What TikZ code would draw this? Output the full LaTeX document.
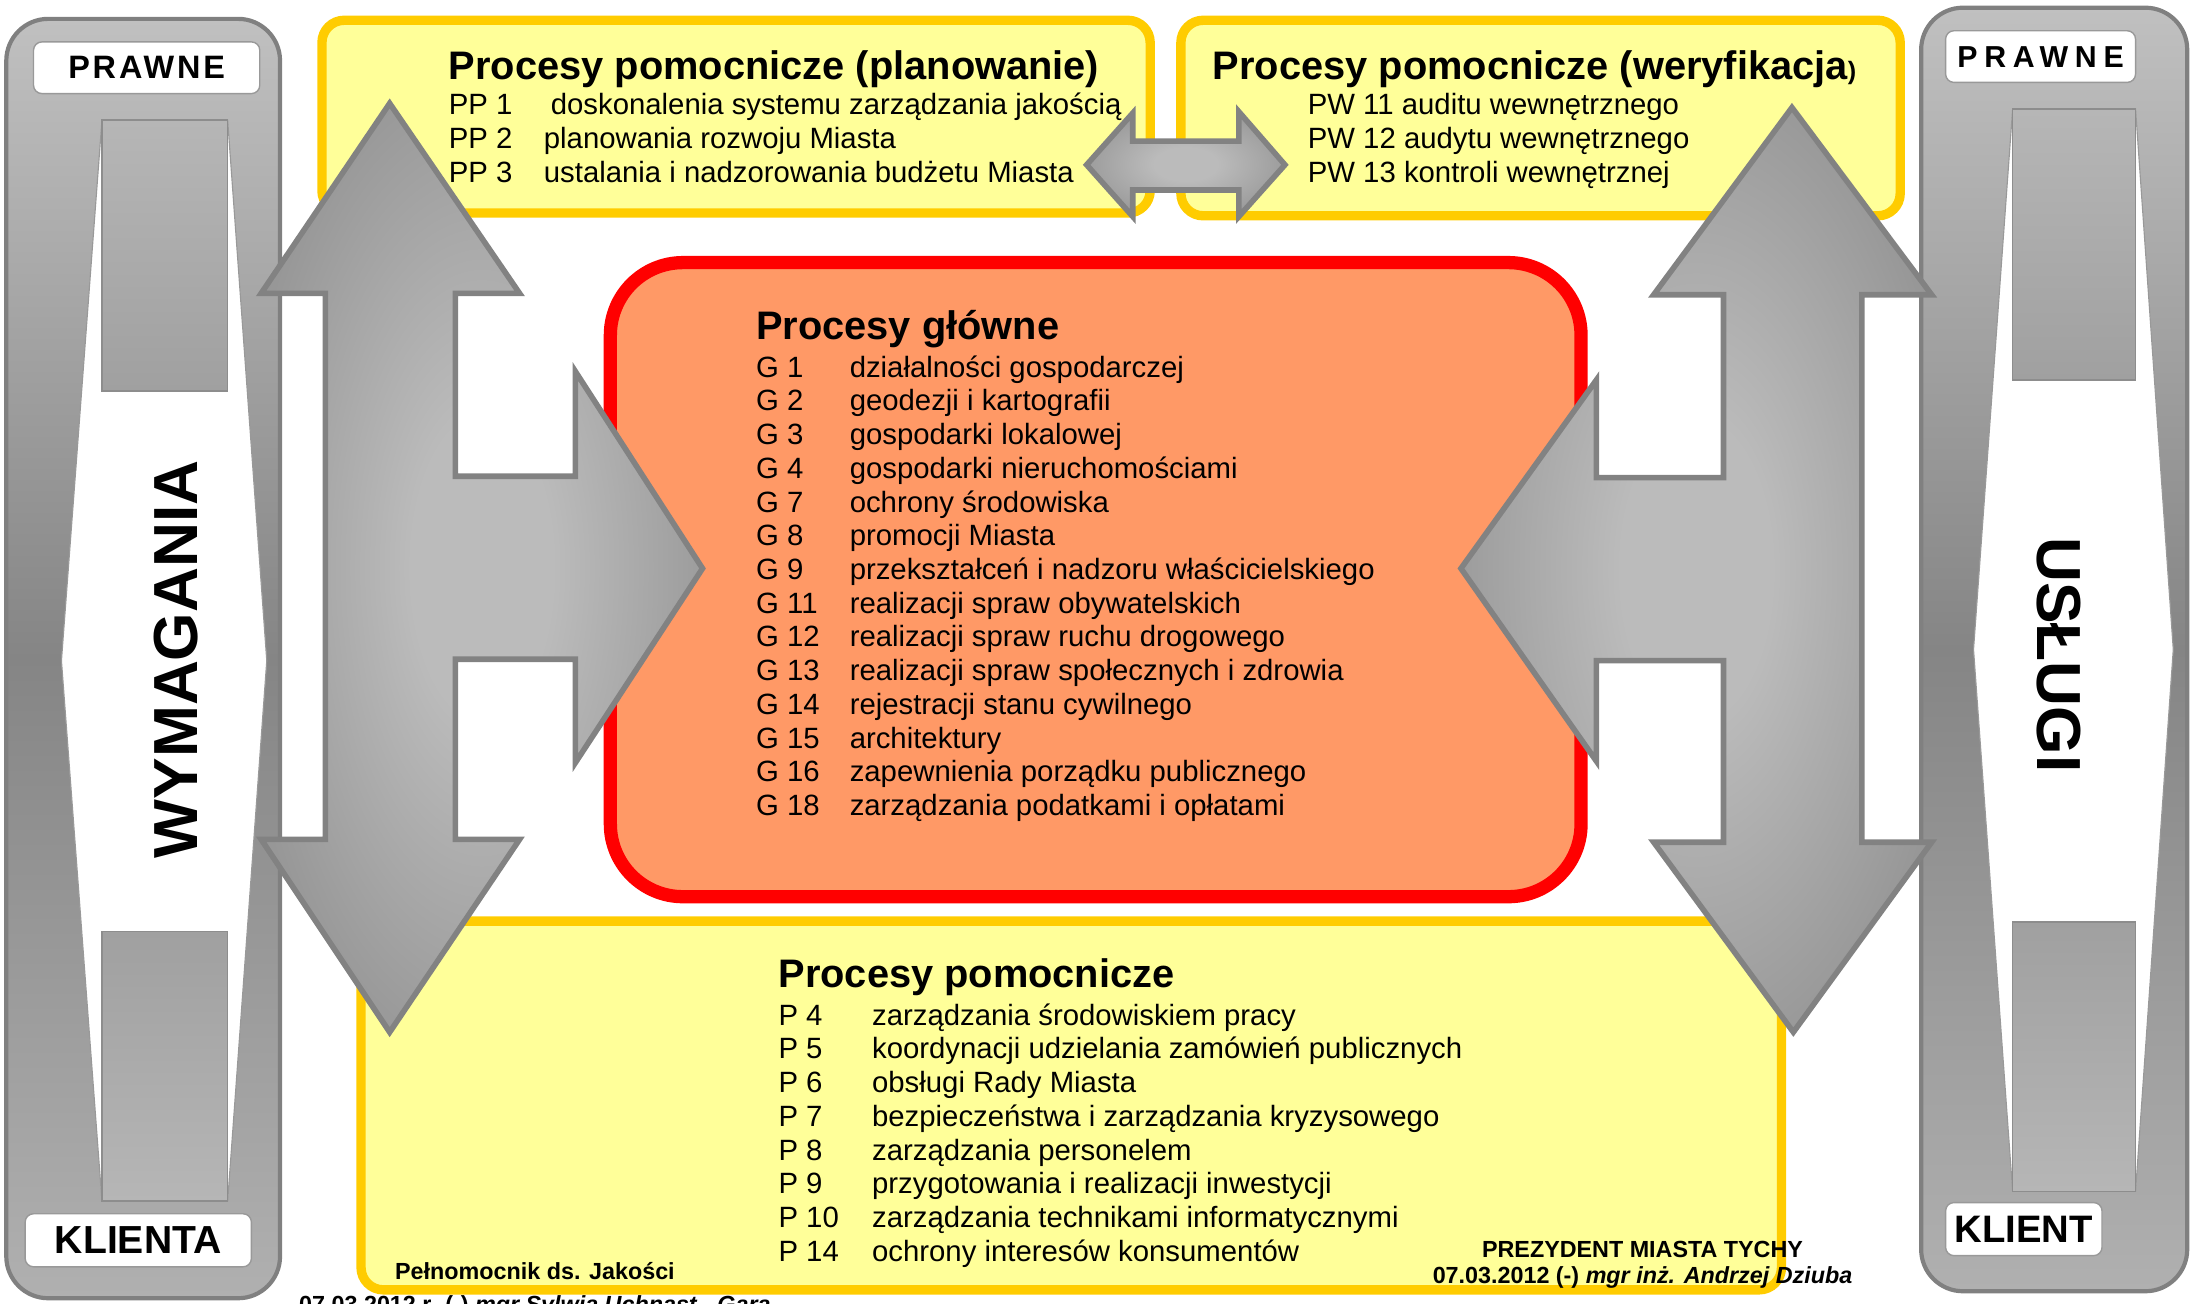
\documentclass[tikz,border=0pt]{standalone}
\usepackage{fontspec}
\usepackage{tikz}
\setmainfont{Liberation Sans}
\newfontfamily\prawneL[LetterSpace=9]{Liberation Sans}
\newfontfamily\prawneR[LetterSpace=22]{Liberation Sans}
\definecolor{boxfill}{HTML}{FFFF99}
\definecolor{boxborder}{HTML}{FFCC00}
\definecolor{mainfill}{HTML}{FF9966}
\definecolor{colborder}{HTML}{808080}
\definecolor{coltop}{HTML}{C0C0C0}
\definecolor{colmid}{HTML}{858585}
\definecolor{colbot}{HTML}{B0B0B0}
\definecolor{insetA}{HTML}{B6B6B6}
\definecolor{insetB}{HTML}{A0A0A0}
\definecolor{arrowlight}{HTML}{BBBBBB}
\definecolor{arrowmid}{HTML}{979797}
\definecolor{arrowdark}{HTML}{7A7A7A}
\definecolor{arrowborder}{HTML}{828282}
\pgfdeclareradialshading{arrowglow}{\pgfpoint{0bp}{0bp}}{color(0bp)=(arrowlight); color(8bp)=(arrowlight); color(28bp)=(arrowmid); color(50bp)=(arrowdark)}

\begin{document}
\begin{tikzpicture}[
        x=0.5pt, y=-0.5pt,
        pombox/.style={draw=boxborder, fill=boxfill, line width=3.35pt, rounded corners=8pt},
        glownybox/.style={draw=red, fill=mainfill, line width=4.75pt, rounded corners=26pt},
        kolumna/.style={draw=colborder, line width=1.5pt, rounded corners=15pt, top color=coltop, bottom color=colbot, middle color=colmid},
        szczelina/.style={draw=colborder!80, line width=0.4pt, fill=white},
        wstawka/.style={draw=colborder!90, line width=0.5pt, top color=insetA, bottom color=insetB},
        strzalka/.style={draw=arrowborder, line width=2pt, shade, shading=arrowglow},
        etykieta/.style={draw=colborder!80, fill=white, rounded corners=3pt, line width=0.5pt, inner sep=0pt},
        tytul/.style={anchor=base west, inner sep=0pt, font=\fontsize{14.25}{17}\selectfont\bfseries},
        pozycja/.style={anchor=base west, inner sep=0pt, font=\fontsize{10.5}{12.5}\selectfont},
        podpis/.style={anchor=base, inner sep=0pt, font=\fontsize{8.35}{10}\selectfont\bfseries},
        napis/.style={inner sep=0pt, font=\fontsize{22.3}{26}\selectfont\bfseries},
    ]
    \useasboundingbox (0,0) rectangle (1568,933);
    \clip (0,0) rectangle (1568,933);

    \draw[kolumna] (4.5,13.5) rectangle (200.5,929.5);
    \draw[szczelina] (73,86) -- (163,86) -- (191,473) -- (163,860) -- (73,860) -- (44,473) -- cycle;
    \draw[wstawka] (73,86) rectangle (163,280);
    \draw[wstawka, top color=insetB, bottom color=insetA] (73,667) rectangle (163,860);
    \node[etykieta, minimum width=81pt, minimum height=18.5pt, font=\prawneL\fontsize{11.6}{13}\selectfont\bfseries] (prawneL) at (105,48.5) {PRAWNE};
    \node[etykieta, minimum width=81pt, minimum height=19pt, font=\fontsize{14}{16}\selectfont\bfseries] (klienta) at (99,888) {KLIENTA};
    \node[napis, rotate=90] (wymagania) at (126,472) {WYMAGANIA};

    \draw[kolumna] (1375.5,5.5) rectangle (1566,924.5);
    \draw[szczelina] (1441,78) -- (1529,78) -- (1556,465) -- (1529,853) -- (1441,853) -- (1413,465) -- cycle;
    \draw[wstawka] (1441,78) rectangle (1529,272);
    \draw[wstawka, top color=insetB, bottom color=insetA] (1441,660) rectangle (1529,853);
    \node[etykieta, minimum width=68pt, minimum height=18.5pt, font=\prawneR\fontsize{10.85}{13}\selectfont\bfseries] (prawneR) at (1461,40.5) {PRAWNE};
    \node[etykieta, minimum width=56pt, minimum height=19pt, font=\fontsize{13.7}{16}\selectfont\bfseries] (klient) at (1449,880) {KLIENT};
    \node[napis, rotate=-90] (uslugi) at (1474,469) {USŁUGI};

    \draw[pombox] (230.5,14.5) rectangle (823.5,152.5);
    \draw[pombox] (845.5,14.5) rectangle (1360.5,154.5);
    \draw[glownybox] (437,188) rectangle (1132,642);
    \draw[pombox] (258.5,659.5) rectangle (1275.5,923.5);

    \draw[strzalka] (279,74) -- (372,210) -- (326,210) -- (326,341) -- (412,341) -- (412,266) -- (503,407)
        -- (412,546) -- (412,472) -- (326,472) -- (326,601) -- (372,601) -- (279,739) -- (187,601)
        -- (233,601) -- (233,210) -- (187,210) -- cycle;
    \draw[strzalka] (1283,77) -- (1383,211) -- (1333,211) -- (1333,603) -- (1383,603) -- (1284,739)
        -- (1184,603) -- (1234,603) -- (1234,473) -- (1143,473) -- (1143,545) -- (1046,407) -- (1143,272)
        -- (1143,342) -- (1234,342) -- (1234,211) -- (1184,211) -- cycle;
    \draw[strzalka] (778,118) -- (811,81) -- (811,101) -- (887,101) -- (887,80) -- (920,118) -- (887,155)
        -- (887,136) -- (811,136) -- (811,155) -- cycle;

    \node[tytul] (tplan) at (321,57) {Procesy pomocnicze (planowanie)};
    \foreach \kod/\x/\opis [count=\i] in {PP 1/394/doskonalenia systemu zarządzania jakością,
            PP 2/389/planowania rozwoju Miasta, PP 3/389/ustalania i nadzorowania budżetu Miasta} {
        \node[pozycja] (pp\i) at (321,{82+24.5*(\i-1)}) {\kod};
        \node[pozycja] (ppopis\i) at (\x,{82+24.5*(\i-1)}) {\opis};
    }

    \node[tytul] (tweryf) at (868,57) {Procesy pomocnicze (weryfikacja{\fontsize{9}{11}\selectfont)}};
    \foreach \opis [count=\i] in {PW 11 auditu wewnętrznego, PW 12 audytu wewnętrznego, PW 13 kontroli wewnętrznej}
        \node[pozycja] (pw\i) at (936,{82+24.5*(\i-1)}) {\opis};

    \node[tytul] (tglowne) at (541,243) {Procesy główne};
    \foreach \kod/\opis [count=\i] in {G 1/działalności gospodarczej, G 2/geodezji i kartografii,
            G 3/gospodarki lokalowej, G 4/gospodarki nieruchomościami, G 7/ochrony środowiska,
            G 8/promocji Miasta, G 9/przekształceń i nadzoru właścicielskiego,
            G 11/realizacji spraw obywatelskich, G 12/realizacji spraw ruchu drogowego,
            G 13/realizacji spraw społecznych i zdrowia, G 14/rejestracji stanu cywilnego,
            G 15/architektury, G 16/zapewnienia porządku publicznego, G 18/zarządzania podatkami i opłatami} {
        \node[pozycja] (g\i) at (541,{270+24.15*(\i-1)}) {\kod};
        \node[pozycja] (gopis\i) at (608,{270+24.15*(\i-1)}) {\opis};
    }

    \node[tytul] (tpom) at (557,707) {Procesy pomocnicze};
    \foreach \kod/\opis [count=\i] in {P 4/zarządzania środowiskiem pracy,
            P 5/koordynacji udzielania zamówień publicznych, P 6/obsługi Rady Miasta,
            P 7/bezpieczeństwa i zarządzania kryzysowego, P 8/zarządzania personelem,
            P 9/przygotowania i realizacji inwestycji, P 10/zarządzania technikami informatycznymi,
            P 14/ochrony interesów konsumentów} {
        \node[pozycja] (p\i) at (557,{734+24.15*(\i-1)}) {\kod};
        \node[pozycja] (popis\i) at (624,{734+24.15*(\i-1)}) {\opis};
    }

    \node[podpis] (pelnomocnik) at (383,916) {Pełnomocnik ds. Jakości};
    \node[podpis] (pelnomocnikdata) at (383,940) {07.03.2012 r. (-) \textit{mgr Sylwia Uchnast - Gara}};
    \node[podpis] (prezydent) at (1176,900) {PREZYDENT MIASTA TYCHY};
    \node[podpis] (prezydentdata) at (1176,919) {07.03.2012 (-) \textit{mgr inż. Andrzej Dziuba}};
\end{tikzpicture}
\end{document}
